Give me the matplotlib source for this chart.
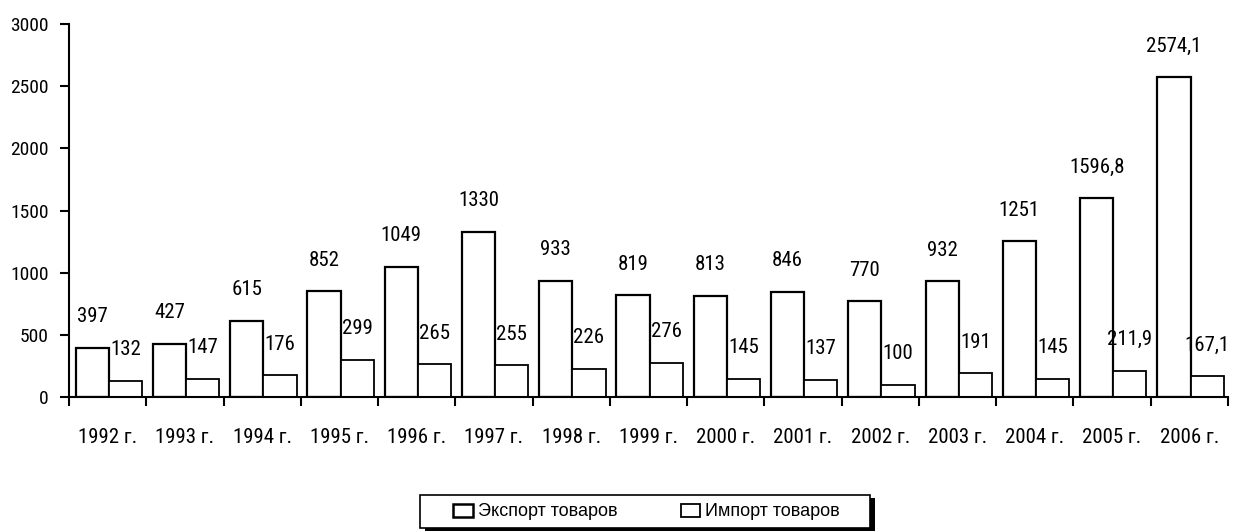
import matplotlib
matplotlib.use("Agg")
import matplotlib.pyplot as plt
from matplotlib.patches import Patch, Rectangle

years = ["1992 г.", "1993 г.", "1994 г.", "1995 г.", "1996 г.", "1997 г.", "1998 г.",
         "1999 г.", "2000 г.", "2001 г.", "2002 г.", "2003 г.", "2004 г.", "2005 г.", "2006 г."]
export_vals = [397, 427, 615, 852, 1049, 1330, 933, 819, 813, 846, 770, 932, 1251, 1596.8, 2574.1]
import_vals = [132, 147, 176, 299, 265, 255, 226, 276, 145, 137, 100, 191, 145, 211.9, 167.1]
export_labels = ["397", "427", "615", "852", "1049", "1330", "933", "819", "813", "846",
                 "770", "932", "1251", "1596,8", "2574,1"]
import_labels = ["132", "147", "176", "299", "265", "255", "226", "276", "145", "137",
                 "100", "191", "145", "211,9", "167,1"]
yticks = [0, 500, 1000, 1500, 2000, 2500, 3000]

plt.rcParams['font.family'] = ['Roboto Condensed', 'PT Sans Narrow', 'DejaVu Sans']

W, H = 1244, 531
fig = plt.figure(figsize=(W / 100, H / 100), dpi=100)
ax = fig.add_axes([69/W, 1-397/H, (1228-69)/W, (397-24)/H])

n = len(years)
x = list(range(n))
w = 0.43
xe = [i - 0.2 for i in x]
xi = [i + 0.23 for i in x]
ax.bar(xe, export_vals, width=w, color='white', edgecolor='black', linewidth=1.6)
ax.bar(xi, import_vals, width=w, color='white', edgecolor='black', linewidth=1.3)

off = 31 * 72 / 100
for xx, v, t in zip(xe, export_vals, export_labels):
    ax.annotate(t, (xx, v), xytext=(0, off), textcoords='offset points',
                ha='center', va='center', fontsize=15)
for xx, v, t in zip(xi, import_vals, import_labels):
    ax.annotate(t, (xx, v), xytext=(0, off), textcoords='offset points',
                ha='center', va='center', fontsize=15)

ax.set_xlim(-0.5, n - 0.5)
ax.set_ylim(0, 3000)
ax.set_yticks(yticks)
ax.set_yticklabels([str(v) for v in yticks], fontsize=14)
ax.set_xticks([i - 0.5 for i in range(n + 1)])
ax.set_xticklabels([])
ax.set_xticks(x, minor=True)
ax.set_xticklabels(years, minor=True, fontsize=15)
ax.tick_params(axis='x', which='major', length=6.5, width=1.5, direction='out')
ax.tick_params(axis='x', which='minor', length=0, pad=22)
ax.tick_params(axis='y', length=6.5, width=1.5, direction='out', pad=8)
for s in ['top', 'right']:
    ax.spines[s].set_visible(False)
for s in ['left', 'bottom']:
    ax.spines[s].set_linewidth(1.5)

# legend frame with shadow
fig.patches.append(Rectangle((425/W, 1-533/H), 450/W, 35/H, transform=fig.transFigure,
                             facecolor='black', edgecolor='none', zorder=1))
fig.patches.append(Rectangle((420/W, 1-528/H), 450/W, 33/H, transform=fig.transFigure,
                             facecolor='white', edgecolor='black', linewidth=1.2, zorder=2))

handles = [Patch(facecolor='white', edgecolor='black', linewidth=1.8, label='Экспорт товаров'),
           Patch(facecolor='white', edgecolor='black', linewidth=1.3, label='Импорт товаров')]
leg = fig.legend(handles=handles, loc='center', ncol=2,
                 bbox_to_anchor=(646.5/W, 1-512/H),
                 prop={'family': ['Liberation Sans', 'DejaVu Sans'], 'size': 13},
                 frameon=False, handlelength=1.1, handleheight=0.75, handletextpad=0.25,
                 columnspacing=3.5, borderpad=0, borderaxespad=0)
leg.set_zorder(5)

fig.savefig("out.png", dpi=100, facecolor='white')
